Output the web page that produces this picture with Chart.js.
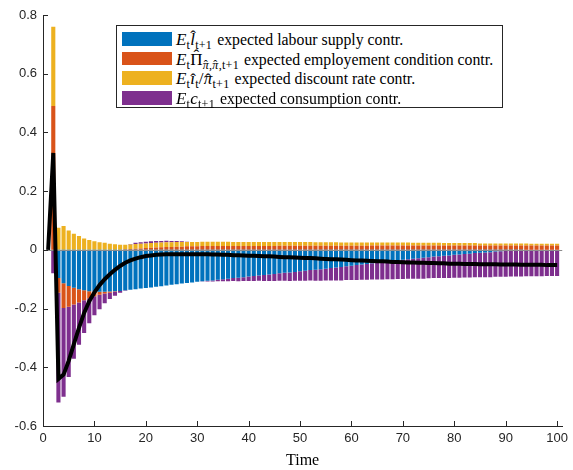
<!DOCTYPE html>
<html><head><meta charset="utf-8">
<script src="https://cdn.jsdelivr.net/npm/chart.js@4/dist/chart.umd.min.js"></script>
<style>
html,body{margin:0;padding:0;background:#fff;}
#wrap{position:relative;width:573px;height:470px;overflow:hidden;}
#c{position:absolute;left:0;top:0;}
#legend{position:absolute;left:116px;top:25px;width:385px;height:81px;border:1px solid #262626;background:#fff;font-family:"Liberation Serif",serif;font-size:15.8px;color:#000;}
.row{position:absolute;left:0;width:100%;height:20px;white-space:nowrap;}
.patch{position:absolute;left:5px;top:2px;width:50px;height:13.5px;}
.txt{position:absolute;left:59px;top:0;line-height:19px;}
.m{display:inline-block;font-size:17px;letter-spacing:0.2px;margin-right:1px;}
.m i{font-style:italic;}
.m sub{font-size:12px;vertical-align:-0.32em;line-height:0;letter-spacing:0.3px;}
.hat{position:relative;display:inline-block;line-height:1;}
.hat .h{position:absolute;left:0;right:0;text-align:center;top:-0.2em;font-style:normal;font-size:1em;line-height:1;}
.hat.cap .h{top:-0.24em;}
.hat.low .h{top:0.02em;}
</style>
</head><body>
<div id="wrap">
<canvas id="c" width="573" height="470"></canvas>
<div id="legend"></div>
</div>
<script>
// ---------- data ----------
const time = Array.from({length:100},(_,i)=>i+1);
const seriesNames = [
  'expected labour supply contr.',
  'expected employement condition contr.',
  'expected discount rate contr.',
  'expected consumption contr.'
];
const H = '<span class="h">\u02C6</span>';
const seriesMath = [
  '<i>E</i><sub>t</sub><span class="hat"><i>l</i>'+H+'</span><sub>t+1</sub>',
  '<i>E</i><sub>t</sub><span class="hat cap">\u03A0'+H+'</span><sub><span class="hat low"><i>\u03C0</i>'+H+'</span>,<span class="hat low"><i>\u03C0</i>'+H+'</span>,t+1</sub>',
  '<i>E</i><sub>t</sub><span class="hat low"><i>\u0131</i>'+H+'</span><sub>t</sub>/<span class="hat low"><i>\u03C0</i>'+H+'</span><sub>t+1</sub>',
  '<i>E</i><sub>t</sub><i>c</i><sub>t+1</sub>'
];
const seriesColors = ['#0072BD','#D95319','#EDB120','#7E2F8E'];

const labour = [0, 0, -0.096, -0.114, -0.123, -0.129, -0.134, -0.138, -0.141, -0.142,
 -0.143, -0.143, -0.142, -0.141, -0.140, -0.138, -0.136, -0.134, -0.132, -0.130,
 -0.128, -0.126, -0.124, -0.121, -0.119, -0.117, -0.115, -0.113, -0.111, -0.109,
 -0.107, -0.105, -0.104, -0.102, -0.100, -0.098, -0.096, -0.095, -0.093, -0.091,
 -0.089, -0.087, -0.086, -0.084, -0.082, -0.080, -0.078, -0.077, -0.075, -0.073,
 -0.071, -0.069, -0.068, -0.066, -0.064, -0.062, -0.060, -0.058, -0.056, -0.054,
 -0.052, -0.050, -0.048, -0.046, -0.044, -0.042, -0.040, -0.038, -0.036, -0.034,
 -0.032, -0.030, -0.029, -0.027, -0.025, -0.023, -0.022, -0.020, -0.019, -0.017,
 -0.016, -0.014, -0.013, -0.011, -0.010, -0.009, -0.008, -0.006, -0.005, -0.004,
 -0.003, -0.002, -0.001, 0, 0, 0, 0, 0, 0, 0];

const employment = [0, 0.49, -0.050, -0.084, -0.071, -0.057, -0.045, -0.034, -0.024, -0.016,
 -0.010, -0.006, -0.004, -0.002, 0.000, 0.002, 0.003, 0.004, 0.005, 0.006,
 0.007, 0.008, 0.009, 0.010, 0.010, 0.011, 0.011, 0.012, 0.012, 0.012,
 0.013, 0.013, 0.013, 0.013, 0.013, 0.013, 0.013, 0.013, 0.013, 0.013,
 0.013, 0.013, 0.013, 0.013, 0.013, 0.014, 0.014, 0.014, 0.014, 0.014,
 0.014, 0.014, 0.014, 0.014, 0.014, 0.014, 0.014, 0.014, 0.014, 0.014,
 0.014, 0.014, 0.014, 0.015, 0.015, 0.015, 0.015, 0.015, 0.015, 0.015,
 0.015, 0.015, 0.015, 0.015, 0.015, 0.015, 0.015, 0.015, 0.015, 0.015,
 0.015, 0.015, 0.015, 0.015, 0.015, 0.015, 0.015, 0.015, 0.015, 0.015,
 0.015, 0.015, 0.015, 0.015, 0.015, 0.015, 0.015, 0.015, 0.015, 0.015];

const discount = [0, 0.27, 0.075, 0.081, 0.066, 0.055, 0.047, 0.039, 0.034, 0.029,
 0.026, 0.024, 0.021, 0.019, 0.017, 0.015, 0.015, 0.016, 0.016, 0.016,
 0.016, 0.016, 0.016, 0.016, 0.016, 0.016, 0.016, 0.015, 0.015, 0.015,
 0.015, 0.015, 0.015, 0.015, 0.015, 0.015, 0.014, 0.014, 0.014, 0.014,
 0.014, 0.014, 0.014, 0.014, 0.014, 0.013, 0.013, 0.013, 0.013, 0.013,
 0.013, 0.013, 0.012, 0.012, 0.012, 0.012, 0.012, 0.011, 0.011, 0.011,
 0.011, 0.011, 0.011, 0.010, 0.010, 0.010, 0.010, 0.010, 0.010, 0.010,
 0.010, 0.009, 0.009, 0.009, 0.009, 0.009, 0.009, 0.008, 0.008, 0.008,
 0.008, 0.008, 0.008, 0.008, 0.007, 0.007, 0.007, 0.007, 0.007, 0.007,
 0.007, 0.007, 0.007, 0.007, 0.006, 0.006, 0.006, 0.006, 0.006, 0.006];

const consumption = [0, -0.080, -0.374, -0.302, -0.239, -0.185, -0.144, -0.111, -0.085, -0.065,
 -0.049, -0.033, -0.021, -0.013, -0.006, -0.001, 0.002, 0.004, 0.005, 0.006,
 0.006, 0.006, 0.005, 0.005, 0.004, 0.003, 0.002, 0.001, 0.000, 0.000,
 -0.001, -0.003, -0.004, -0.005, -0.007, -0.009, -0.010, -0.012, -0.013, -0.015,
 -0.017, -0.018, -0.020, -0.022, -0.024, -0.025, -0.027, -0.029, -0.030, -0.032,
 -0.034, -0.035, -0.037, -0.039, -0.040, -0.042, -0.044, -0.046, -0.047, -0.049,
 -0.051, -0.052, -0.054, -0.055, -0.057, -0.059, -0.060, -0.062, -0.063, -0.065,
 -0.066, -0.068, -0.069, -0.071, -0.072, -0.073, -0.074, -0.076, -0.077, -0.078,
 -0.079, -0.080, -0.081, -0.082, -0.083, -0.084, -0.085, -0.086, -0.087, -0.088,
 -0.088, -0.089, -0.090, -0.090, -0.090, -0.090, -0.090, -0.089, -0.089, -0.089];

const total = [0, 0.330, -0.440, -0.425, -0.378, -0.321, -0.266, -0.215, -0.175, -0.145,
 -0.120, -0.100, -0.083, -0.068, -0.055, -0.044, -0.036, -0.030, -0.025, -0.021,
 -0.019, -0.017, -0.016, -0.015, -0.015, -0.015, -0.015, -0.015, -0.015, -0.015,
 -0.015, -0.015, -0.016, -0.016, -0.017, -0.017, -0.018, -0.018, -0.019, -0.020,
 -0.020, -0.021, -0.022, -0.022, -0.023, -0.024, -0.025, -0.025, -0.026, -0.027,
 -0.028, -0.028, -0.029, -0.030, -0.031, -0.032, -0.032, -0.033, -0.034, -0.035,
 -0.036, -0.036, -0.037, -0.038, -0.039, -0.039, -0.040, -0.041, -0.041, -0.042,
 -0.043, -0.043, -0.044, -0.044, -0.045, -0.045, -0.046, -0.046, -0.047, -0.047,
 -0.047, -0.048, -0.048, -0.048, -0.049, -0.049, -0.049, -0.049, -0.050, -0.050,
 -0.050, -0.050, -0.051, -0.051, -0.051, -0.051, -0.051, -0.052, -0.052, -0.052];

const xTicks = [0,10,20,30,40,50,60,70,80,90,100];
const yTicks = [-0.6,-0.4,-0.2,0,0.2,0.4,0.6,0.8];
const xLabel = 'Time';

// ---------- build ----------
const pts = arr => time.map((t,i)=>({x:t, y:arr[i]}));
const barSeries = [labour, employment, discount, consumption];

const datasets = [{
  type:'line', label:'total', data:pts(total), yAxisID:'y2',
  borderColor:'#000', borderWidth:4, pointRadius:0, tension:0, fill:false, order:0,
  borderJoinStyle:'miter'
}];
barSeries.forEach((s,i)=>datasets.push({
  type:'bar', label:seriesNames[i], data:pts(s), stack:'s', order:1,
  backgroundColor:seriesColors[i], borderWidth:0,
  barPercentage:0.8, categoryPercentage:1.0
}));

const axisColor = '#262626';
const tickFont = {family:'"Liberation Sans", Arial, sans-serif', size:13};

const matlabTicks = {
  id:'matlabTicks',
  beforeDatasetDraw(chart, args){
    if (args.index !== 0) return;
    const {ctx, chartArea:a, scales:{x,y}} = chart;
    const y0 = Math.round(y.getPixelForValue(0)) + 0.5;
    ctx.save();
    ctx.strokeStyle = '#8c8c8c'; ctx.lineWidth = 1;
    ctx.beginPath(); ctx.moveTo(a.left, y0); ctx.lineTo(a.right, y0); ctx.stroke();
    ctx.restore();
  },
  afterDraw(chart){
    const {ctx, chartArea:a, scales:{x,y}} = chart;
    ctx.save();
    ctx.strokeStyle = axisColor; ctx.lineWidth = 1;
    ctx.beginPath();
    yTicks.forEach(v=>{
      const py = Math.round(y.getPixelForValue(v)) + 0.5;
      ctx.moveTo(a.left, py); ctx.lineTo(a.left+5, py);
    });
    xTicks.forEach(v=>{
      const px = Math.round(x.getPixelForValue(v)) + 0.5;
      ctx.moveTo(px, a.bottom); ctx.lineTo(px, a.bottom-5);
    });
    ctx.stroke();
    ctx.restore();
  }
};

new Chart(document.getElementById('c'), {
  type:'bar',
  data:{datasets},
  plugins:[matlabTicks],
  options:{
    responsive:false, animation:false, events:[], devicePixelRatio:1,
    layout:{padding:{top:15, right:6, left:0, bottom:0}},
    plugins:{legend:{display:false}, tooltip:{enabled:false}},
    scales:{
      x:{
        type:'linear', min:0, max:101, offset:false,
        grid:{display:false, offset:false, drawTicks:false},
        border:{display:true, color:axisColor, width:1},
        afterBuildTicks: s => { s.ticks = xTicks.map(v=>({value:v})); },
        ticks:{autoSkip:false, maxRotation:0, padding:5, color:axisColor, font:tickFont,
               callback:v=>String(v)},
        title:{display:true, text:xLabel, color:'#000',
               font:{family:'"Liberation Serif", serif', size:16}, padding:{top:0,bottom:0}},
        afterFit: s => { s.height = 44; }
      },
      y:{
        type:'linear', stacked:true, min:-0.6, max:0.8,
        grid:{display:false, drawTicks:false},
        border:{display:true, color:axisColor, width:1},
        afterBuildTicks: s => { s.ticks = yTicks.map(v=>({value:v})); },
        ticks:{autoSkip:false, padding:6, color:axisColor, font:tickFont,
               callback:v=> Math.abs(v)<1e-9 ? '0' : String(+v.toFixed(1))},
        afterFit: s => { s.width = 43; }
      },
      y2:{type:'linear', display:false, min:-0.6, max:0.8}
    }
  }
});

// ---------- legend (HTML text) ----------
const leg = document.getElementById('legend');
seriesNames.forEach((n,i)=>{
  const row = document.createElement('div');
  row.className='row'; row.style.top = (4 + i*19.7)+'px';
  row.innerHTML = '<div class="patch" style="background:'+seriesColors[i]+'"></div>'+
    '<span class="txt"><span class="m">'+seriesMath[i]+'</span> '+n+'</span>';
  leg.appendChild(row);
});
</script>
</body></html>
